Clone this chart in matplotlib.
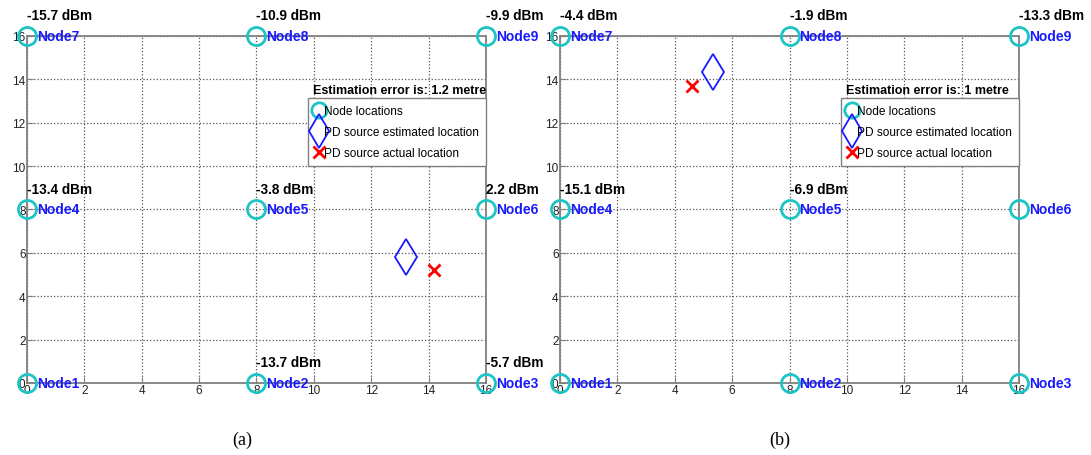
import numpy as np
import matplotlib.pyplot as plt
from matplotlib.lines import Line2D

# sensor node grid (metres)
node_names = ['Node1', 'Node2', 'Node3', 'Node4', 'Node5', 'Node6', 'Node7', 'Node8', 'Node9']
node_x = [0, 8, 16, 0, 8, 16, 0, 8, 16]
node_y = [0, 0, 0, 8, 8, 8, 16, 16, 16]

# received power at each node, None where no reading is shown
power_a = [None, -13.7, -5.7, -13.4, -3.8, 2.2, -15.7, -10.9, -9.9]
power_b = [None, None, None, -15.1, -6.9, None, -4.4, -1.9, -13.3]

# PD source locations (x, y)
est_a = (13.2, 5.8)
act_a = (14.2, 5.2)
est_b = (5.35, 14.35)
act_b = (4.6, 13.7)

err_a = '1.2'
err_b = '1'

ticks = [0, 2, 4, 6, 8, 10, 12, 14, 16]

plt.rcParams['font.family'] = ['Liberation Sans', 'DejaVu Sans']

fig = plt.figure(figsize=(10.91, 4.56), dpi=100)
ax_a = fig.add_axes([0.0247, 0.158, 0.4207, 0.761])
ax_b = fig.add_axes([0.5133, 0.158, 0.4207, 0.761])

cyan = '#1cc4c4'
blue = '#1a1aff'


def draw_panel(ax, power, est, act, err):
    ax.plot(node_x, node_y, 'o', ls='none', mfc='none', mec=cyan, mew=2, ms=13,
            clip_on=False, zorder=5)
    ax.plot(est[0], est[1], 'd', mfc='none', mec=blue, mew=1.3, ms=18, zorder=5)
    ax.plot(act[0], act[1], 'x', color='red', mew=2, ms=9, zorder=5)

    for name, x, y, p in zip(node_names, node_x, node_y, power):
        ax.annotate(name, (x, y), xytext=(7, 0), textcoords='offset points',
                    ha='left', va='center', color=blue, fontsize=10,
                    fontweight='bold', annotation_clip=False, zorder=6)
        if p is not None:
            ax.annotate(f'{p} dBm', (x, y), xytext=(0, 10), textcoords='offset points',
                        ha='left', va='bottom', color='black', fontsize=9.8,
                        fontweight='bold', annotation_clip=False, zorder=6)

    ax.set_xlim(0, 16)
    ax.set_ylim(0, 16)
    ax.set_xticks(ticks)
    ax.set_yticks(ticks)
    ax.tick_params(direction='in', length=4, pad=1, labelsize=8.5,
                   color='#808080', labelcolor='#222222')
    ax.grid(True, ls=':', color='#555555', lw=0.9)
    for s in ax.spines.values():
        s.set_color('#808080')
        s.set_linewidth(1.3)

    handles = [
        Line2D([], [], ls='none', marker='o', mfc='none', mec=cyan, mew=2, ms=11),
        Line2D([], [], ls='none', marker='d', mfc='none', mec=blue, mew=1.3, ms=17),
        Line2D([], [], ls='none', marker='x', color='red', mew=2, ms=8),
    ]
    labels = ['Node locations', 'PD source estimated location', 'PD source actual location']
    leg = ax.legend(handles, labels, loc='upper right',
                    bbox_to_anchor=(1.0, 0.821), fontsize=8.6,
                    handlelength=0.5, handletextpad=0.2, borderpad=0.6,
                    labelspacing=0.75, borderaxespad=0, frameon=True,
                    fancybox=False, edgecolor='#808080', framealpha=1)
    leg.get_frame().set_linewidth(1.0)
    ax.text(0.623, 0.826, f'Estimation error is: {err} metre', transform=ax.transAxes,
            ha='left', va='bottom', fontsize=9, fontweight='bold', zorder=7)


draw_panel(ax_a, power_a, est_a, act_a, err_a)
draw_panel(ax_b, power_b, est_b, act_b, err_b)

fig.text(0.222, 0.035, '(a)', ha='center', va='center', fontsize=13,
         family='Liberation Serif')
fig.text(0.715, 0.035, '(b)', ha='center', va='center', fontsize=13,
         family='Liberation Serif')

fig.savefig('out.png', dpi=100)
